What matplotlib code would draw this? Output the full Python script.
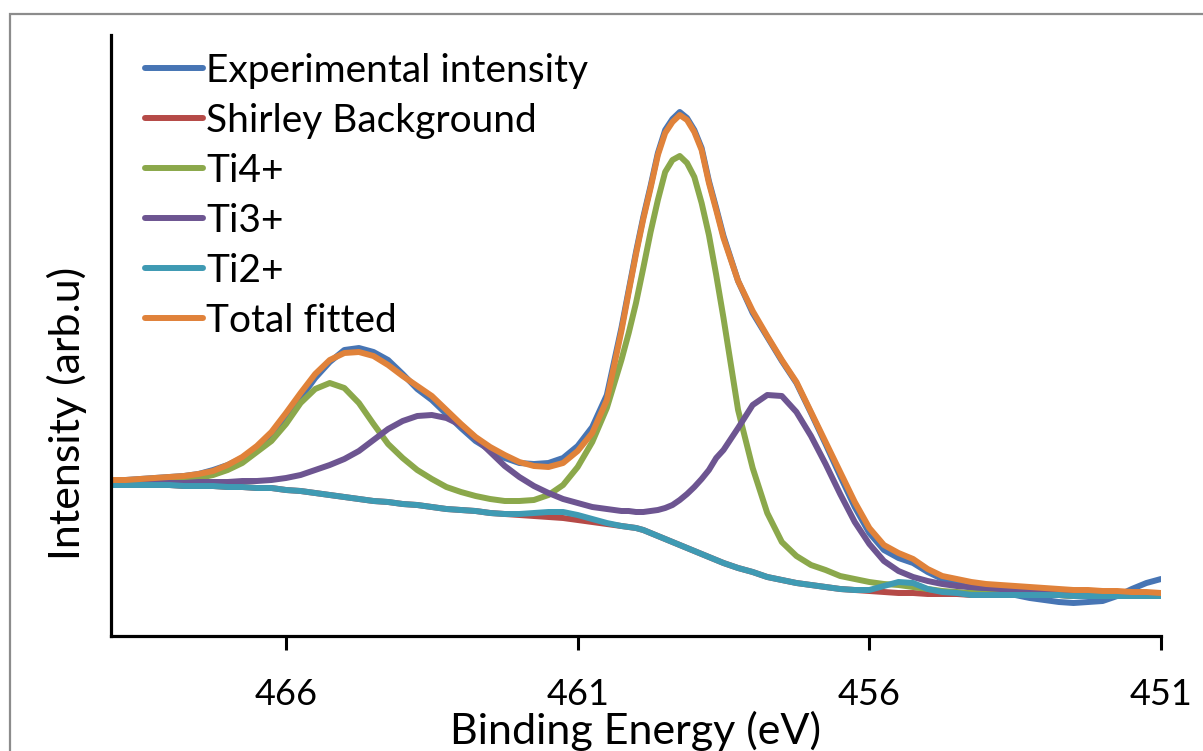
import matplotlib
matplotlib.use("Agg")
import matplotlib.pyplot as plt
from matplotlib.patches import Rectangle

plt.rcParams['font.family'] = ['Lato', 'DejaVu Sans']

# Binding energy grid (eV): 0.25 eV steps, 0.125 eV steps across the main peak
binding_energy = ([469.0 - 0.25 * i for i in range(36)]
                  + [460.125 - 0.125 * i for i in range(13)]
                  + [458.5 - 0.25 * i for i in range(31)])

experimental = [155, 156, 157, 158, 159, 160, 162, 166, 171, 178, 188, 201, 219, 238, 258, 274,
                286, 288, 284, 276, 262, 247, 236, 222, 208, 195, 186, 178, 173, 172, 173, 178,
                190, 209, 241, 308,
                346, 384, 419, 450, 483, 506, 517, 524, 518, 506, 488, 455, 428,
                400, 355, 323, 299, 275, 253, 223, 192, 160, 129, 103, 86, 78, 73, 64, 57,
                52, 48, 45, 43, 41, 38, 36, 34, 33, 34, 35, 40, 47, 53, 57]

shirley = [151, 151, 151, 151, 151, 150, 150, 150, 149, 149, 148, 148, 146, 145, 143, 141,
           139, 137, 135, 134, 132, 131, 129, 127, 126, 125, 123, 122, 121, 120, 119, 118,
           116, 114, 112, 110,
           109, 108, 106, 103, 100, 97, 94, 91, 88, 85, 82, 79, 76,
           73, 68, 64, 59, 56, 53, 51, 49, 47, 46, 45, 44, 43, 43, 42, 42,
           42, 41, 41, 41, 41, 41, 41, 41, 40, 40, 40, 40, 40, 40, 40]

ti4 = [152, 152, 153, 154, 155, 156, 158, 161, 166, 173, 184, 195, 212, 233, 247, 253,
       248, 233, 212, 192, 178, 166, 157, 149, 144, 140, 137, 135, 135, 136, 141, 151,
       169, 194, 228, 276,
       303, 333, 368, 404, 436, 464, 476, 480, 473, 459, 433, 401, 361,
       318, 226, 168, 123, 94, 80, 71, 66, 60, 57, 54, 52, 51, 49, 47, 45,
       44, 43, 42, 42, 41, 41, 41, 41, 40, 40, 40, 40, 40, 40, 40]

ti3 = [153, 153, 153, 153, 153, 153, 154, 154, 154, 155, 155, 156, 158, 161, 166, 171,
       177, 185, 196, 207, 215, 220, 221, 218, 211, 198, 184, 170, 159, 150, 143, 137,
       133, 129, 127, 125,
       125, 124, 124, 125, 126, 128, 131, 136, 142, 149, 157, 166, 178,
       186, 208, 231, 241, 240, 224, 200, 172, 142, 114, 92, 75, 65, 59, 55, 52,
       50, 49, 48, 47, 46, 45, 44, 44, 43, 43, 42, 42, 42, 42, 41]

ti2 = [151, 151, 151, 151, 151, 150, 150, 150, 149, 149, 148, 148, 146, 145, 143, 141,
       139, 137, 135, 134, 132, 131, 129, 127, 126, 125, 123, 122, 122, 123, 124, 124,
       121, 117, 113, 110,
       109, 108, 106, 103, 100, 97, 94, 91, 88, 85, 82, 79, 76,
       73, 68, 64, 59, 56, 53, 51, 49, 47, 46, 46, 50, 54, 53, 47, 44,
       43, 41, 41, 41, 41, 41, 41, 41, 40, 40, 40, 40, 40, 40, 40]

total_fit = [156, 156, 157, 158, 159, 160, 162, 165, 171, 179, 190, 204, 223, 243, 262, 276,
             283, 284, 280, 271, 260, 250, 240, 226, 212, 199, 189, 181, 174, 170, 169, 173,
             185, 203, 236, 305,
             344, 382, 417, 448, 481, 503, 514, 521, 516, 504, 486, 453, 426,
             398, 355, 325, 300, 276, 254, 224, 194, 164, 134, 108, 91, 83, 77, 67, 60,
             57, 54, 52, 51, 50, 49, 48, 47, 46, 46, 45, 45, 44, 44, 43]

series_labels = ["Experimental intensity", "Shirley Background", "Ti4+", "Ti3+", "Ti2+", "Total fitted"]
series_colors = ["#4775B4", "#B54A47", "#8BA84B", "#6D5591", "#3F9AB3", "#E0823A"]
x_ticks = [466, 461, 456, 451]

W, H = 1203, 751
fig = plt.figure(figsize=(W / 100, H / 100), dpi=100)

# outer chart-area frame
fig.patches.append(Rectangle((9.5 / W, -0.05), 1.2, (H - 13.5) / H + 0.05,
                             transform=fig.transFigure, fill=False,
                             edgecolor="#8C8C8C", linewidth=1.6))

ax = fig.add_axes([111 / W, (H - 636) / H, (1161 - 111) / W, (636 - 35) / H])

data = [experimental, shirley, ti4, ti3, ti2, total_fit]
for vals, lab, col in zip(data, series_labels, series_colors):
    ax.plot(binding_energy, vals, color=col, linewidth=4.3, label=lab,
            solid_capstyle='round', solid_joinstyle='round')

ax.set_xlim(469.0, 451.0)
ax.set_ylim(0, 601)
ax.set_xticks(x_ticks)
ax.set_xticklabels([str(t) for t in x_ticks])
ax.set_yticks([])
for s in ['top', 'right']:
    ax.spines[s].set_visible(False)
for s in ['left', 'bottom']:
    ax.spines[s].set_linewidth(2.3)
    ax.spines[s].set_color('black')
ax.tick_params(axis='x', direction='out', length=10, width=2.2, pad=20, labelsize=26)

ax.set_xlabel("Binding Energy (eV)", fontsize=31, labelpad=0)
ax.set_ylabel("Intensity (arb.u)", fontsize=31)
ax.yaxis.set_label_coords(-0.023, (636 - 413) / 601)

leg = ax.legend(loc='upper left', bbox_to_anchor=(145 / W, (H - 53) / H),
                bbox_transform=fig.transFigure, frameon=False, fontsize=28,
                handlelength=1.5, handletextpad=0.08, labelspacing=0.36,
                borderpad=0, borderaxespad=0)
for line in leg.get_lines():
    line.set_linewidth(4.3)

fig.savefig("out.png", dpi=100)
